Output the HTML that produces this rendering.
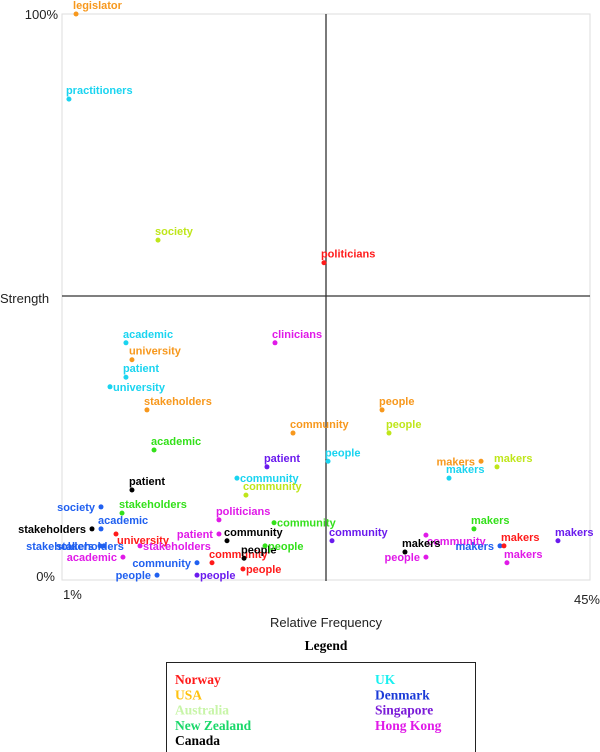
<!DOCTYPE html>
<html><head><meta charset="utf-8">
<style>
html,body{margin:0;padding:0;background:#fff;width:600px;height:752px;overflow:hidden}
svg{display:block}
.lbl{font-family:"Liberation Sans",sans-serif;font-weight:bold;font-size:11px}
.ax{font-family:"Liberation Sans",sans-serif;font-size:13px;fill:#222}
.lg{font-family:"Liberation Serif",serif;font-weight:bold;font-size:13.5px}
</style></head><body>
<svg id="chart" width="600" height="752" viewBox="0 0 600 752">
<rect x="62" y="14" width="528" height="566" fill="none" stroke="#ddd" stroke-width="1"/>
<g id="marks"></g>
<text class="ax" x="58" y="19" text-anchor="end">100%</text>
<text class="ax" x="0" y="303">Strength</text>
<text class="ax" x="55" y="581" text-anchor="end">0%</text>
<text class="ax" x="63" y="599">1%</text>
<text class="ax" x="600" y="604" text-anchor="end">45%</text>
<text class="ax" x="326" y="627" text-anchor="middle">Relative Frequency</text>
<text class="lg" x="326" y="650" text-anchor="middle" fill="#000">Legend</text>
<rect x="166.5" y="662.5" width="309" height="92" fill="none" stroke="#222" stroke-width="1"/>
<g id="legend"></g>
</svg>
<script>
const countries=["Norway","USA","Australia","New Zealand","Canada","UK","Denmark","Singapore","Hong Kong"];
const dotColors=["#ff1a1a","#f7981d","#bfe61a","#33e01a","#000000","#1ad4f0","#2060f0","#6a1aee","#e01ae8"];
const legendColors=["#ff1a1a","#ffc20e","#c8f5a8","#1ad86a","#000000","#1af0f0","#1a3ad8","#7a1ad8","#e01ae8"];
const labels=["legislator","practitioners","society","politicians","academic","clinicians","university","patient","university","stakeholders","academic","community","people","people","people","patient","community","community","makers","makers","makers","patient","society","stakeholders","politicians","academic","stakeholders","community","community","makers","community","makers","makers","makers","makers","makers","people","university","stakeholders","stakeholders","stakeholders","patient","academic","community","people","people","community","community","people","people","people"];
const countryIdx=[1,5,2,0,5,8,1,5,5,1,3,1,1,2,5,7,5,2,1,2,5,4,6,3,8,6,4,3,7,3,8,4,6,0,7,8,8,0,6,6,8,8,8,6,6,7,4,0,4,3,0];
const freq=[2.17,1.58,9.0,22.83,6.33,18.75,6.83,6.33,5.0,8.08,8.67,20.25,27.67,28.25,23.17,18.08,15.58,16.33,35.92,37.25,33.25,6.83,4.25,6.0,14.08,4.25,3.5,18.67,23.5,35.33,31.33,29.58,37.5,37.83,42.33,38.08,31.33,5.5,4.17,4.5,7.5,14.08,6.08,12.25,8.92,12.25,14.75,13.5,16.17,17.92,16.08];
const strength=[100,84.9,59.9,55.9,41.7,41.7,38.7,35.6,33.9,29.8,22.7,25.7,29.8,25.7,20.7,19.7,17.7,14.7,20.7,19.7,17.7,15.6,12.6,11.5,10.3,8.7,8.7,9.8,6.6,8.7,7.6,4.6,5.7,5.7,6.6,2.7,3.7,7.8,5.7,5.7,5.7,7.8,3.7,2.7,0.5,0.5,6.6,2.7,3.5,5.7,1.6];
const labelPos=["a","a","a","a","a","a","a","a","r","a","a","a","a","a","a","a","r","a","l","a","a","a","l","a","a","a","l","r","a","a","b","a","l","a","a","a","l","b","l","m","r","l","l","l","l","r","a","a","a","r","r"];
const X=v=>62+(v-1)*12, Y=v=>578-v*5.64;
const NS="http://www.w3.org/2000/svg";
const marks=document.getElementById('marks');
function ln(x1,y1,x2,y2,name){const l=document.createElementNS(NS,'line');
l.setAttribute('x1',x1);l.setAttribute('y1',y1);l.setAttribute('x2',x2);l.setAttribute('y2',y2);
l.setAttribute('stroke','#333');l.setAttribute('stroke-width','1.3');


marks.appendChild(l);}
ln(62,Y(50),590,Y(50),'strength-midline');
ln(X(23),14,X(23),581,'frequency-midline');
labels.forEach((t,i)=>{const x=X(freq[i]),y=Y(strength[i]),c=dotColors[countryIdx[i]];
const d=document.createElementNS(NS,'circle');d.setAttribute('cx',x);d.setAttribute('cy',y);d.setAttribute('r',2.5);d.setAttribute('fill',c);


marks.appendChild(d);
const tx=document.createElementNS(NS,'text');tx.setAttribute('class','lbl');tx.setAttribute('fill',c);
let p=labelPos[i],lx=x-3,ly=y-5,a='start';
if(p==='r'){lx=x+3;ly=y+4;}else if(p==='l'){lx=x-6;ly=y+4;a='end';}else if(p==='b'){lx=x+1;ly=y+10;}else if(p==='m'){lx=x-14;ly=y+4;a='middle';}
tx.setAttribute('x',lx);tx.setAttribute('y',ly);tx.setAttribute('text-anchor',a);tx.textContent=t;


marks.appendChild(tx);});
const lg=document.getElementById('legend');
countries.forEach((c,i)=>{const col=i<5?0:1,row=i<5?i:i-5;
const t=document.createElementNS(NS,'text');t.setAttribute('class','lg');t.setAttribute('fill',legendColors[i]);
t.setAttribute('x',col?375:175);t.setAttribute('y',684+row*15.3);t.textContent=c;


lg.appendChild(t);});
</script>
</body></html>
